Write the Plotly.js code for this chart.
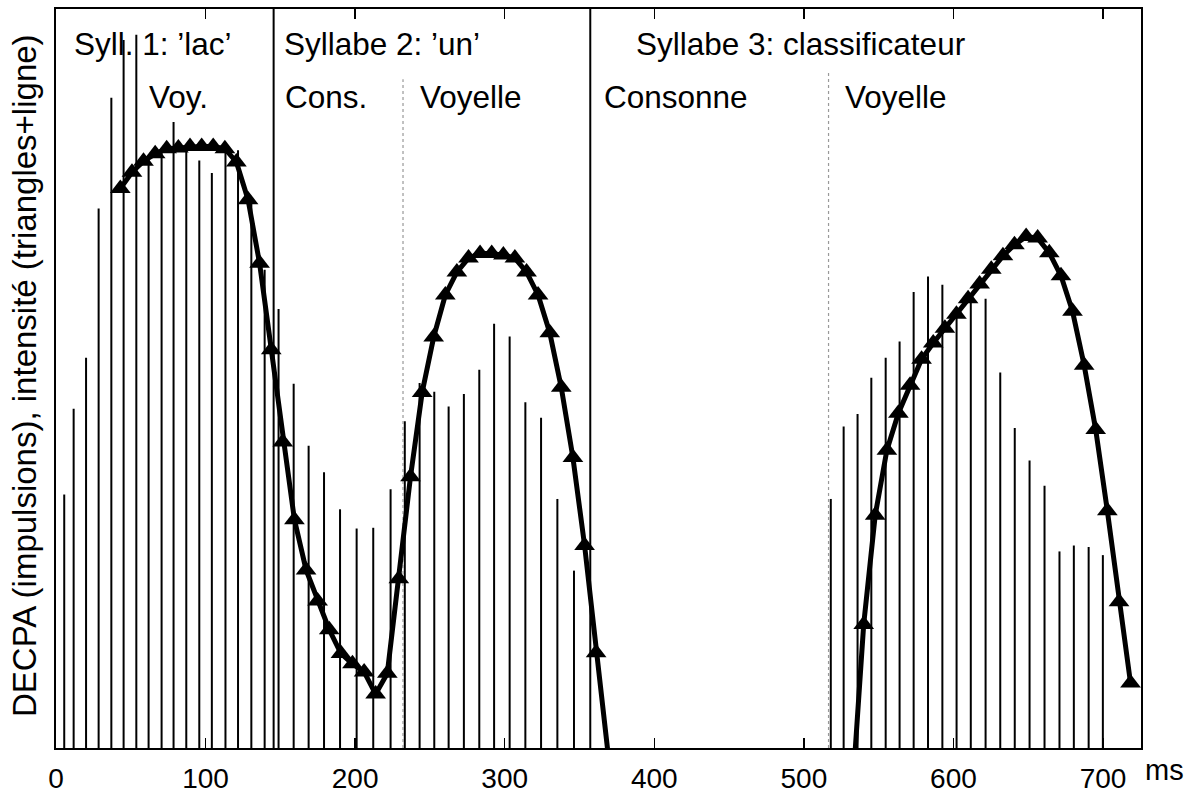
<!DOCTYPE html>
<html>
<head>
<meta charset="utf-8">
<script src="https://cdn.plot.ly/plotly-3.0.1.min.js"></script>
<style>html,body{margin:0;padding:0;background:#fff}#chart{width:1199px;height:796px}</style>
</head>
<body>
<div id="chart"></div>
<script>
// Glottal pulses (DECPA): time in ms and relative amplitude
const pulseMs = [5.5, 11.8, 20.1, 28.5, 37.0, 45.2, 53.7, 61.9, 70.6, 78.6, 87.1, 95.8, 104.2, 113.3, 121.7,
  130.6, 139.5, 148.8, 158.9, 168.9, 179.2, 189.9, 201.0, 212.1, 223.7, 233.2,
  243.1, 252.9, 262.5, 272.7, 283.0, 292.9, 303.3, 313.8, 324.3, 335.2, 346.3,
  518.0, 526.6, 535.9, 545.1, 554.7, 564.0, 573.4, 583.0, 592.6, 602.1, 611.6, 621.5,
  631.3, 641.0, 650.9, 660.9, 670.9, 680.5, 690.4, 699.9];
const pulseH = [34.3, 45.9, 52.8, 73.0, 88.0, 95.8, 96.5, 79.8, 80.5, 84.7, 80.9, 79.5, 77.8, 81.9, 80.9,
  73.6, 64.7, 59.4, 49.3, 40.9, 37.3, 32.3, 29.7, 29.8, 35.0, 44.2,
  49.4, 48.2, 46.2, 47.9, 51.2, 57.4, 55.7, 46.8, 44.7, 33.7, 24.0,
  33.7, 43.5, 45.2, 50.1, 52.8, 55.0, 61.7, 63.8, 62.7, 58.2, 60.4, 60.8,
  50.8, 43.3, 38.9, 35.5, 26.6, 27.4, 27.2, 26.1];

// Intensity curve, syllables 1-2
const intMs1 = [43.0, 50.8, 58.5, 66.3, 74.0, 81.8, 89.6, 97.4, 105.1, 112.9, 120.6, 128.4, 136.1, 143.9,
  151.6, 159.4, 167.2, 174.9, 182.7, 190.5, 198.2, 206.0, 213.7, 221.5, 229.2, 237.0, 244.8, 252.5,
  260.3, 268.0, 275.8, 283.5, 291.3, 299.1, 306.8, 314.6, 322.3, 330.1, 337.8, 345.6, 353.4, 361.1, 368.9];
const intVal1 = [75.7, 77.9, 79.4, 80.4, 81.1, 81.2, 81.4, 81.4, 81.4, 81.1, 79.3, 74.2, 65.6, 53.9,
  41.4, 30.9, 24.1, 19.9, 16.0, 12.8, 11.4, 10.3, 7.3, 10.1, 22.9, 36.7, 48.1, 55.6,
  61.3, 64.4, 66.3, 66.9, 66.9, 66.7, 66.3, 64.4, 61.3, 56.2, 48.8, 39.3, 27.4, 12.9, -0.4];
// Intensity curve, syllable 3
const intMs3 = [532.2, 540.0, 547.7, 555.5, 563.2, 571.0, 578.7, 586.5, 594.3, 602.0, 609.8, 617.5, 625.3,
  633.1, 640.8, 648.6, 656.3, 664.1, 671.9, 679.6, 687.4, 695.1, 702.9, 710.7, 718.4];
const intVal3 = [-6.6, 16.7, 31.5, 40.3, 45.3, 49.1, 52.6, 54.8, 56.8, 58.7, 60.8, 62.8, 64.8,
  66.6, 68.1, 69.2, 69.0, 67.0, 63.9, 59.1, 51.8, 43.1, 32.1, 19.8, 8.8];

// Segment boundaries (ms)
const syllableBounds = [145.5, 357.2];
const phoneBounds = [232.0, 516.5];
const phoneBoundTop = [90.5, 91.5];

// Labels
const rowSyll = ["Syll. 1: \u2019lac\u2019", "Syllabe 2: \u2019un\u2019", "Syllabe 3: classificateur"];
const rowSyllMs = [10.5, 151.1, 386.2];
const rowPhone = ["Voy.", "Cons.", "Voyelle", "Consonne", "Voyelle"];
const rowPhoneMs = [60.8, 151.5, 242.0, 364.8, 526.4];
const xTicks = [0, 100, 200, 300, 400, 500, 600, 700];

const FONT = "Liberation Sans, Arial, Helvetica, sans-serif";

// build impulse segments
const px = [], py = [];
pulseMs.forEach((t, i) => { px.push(t, t, null); py.push(0, pulseH[i], null); });
// boundary lines
const bx = [], by = [];
syllableBounds.forEach(t => { bx.push(t, t, null); by.push(0, 100, null); });
const dx = [], dy = [];
phoneBounds.forEach((t, i) => { dx.push(t, t, null); dy.push(0, phoneBoundTop[i], null); });

const lineX = intMs1.concat([null], intMs3);
const lineY = intVal1.concat([null], intVal3);
const markY = lineY.map(v => (v === null || v < 0) ? null : v);

const traces = [
  {x: px, y: py, mode: 'lines', line: {color: '#000', width: 2}, hoverinfo: 'skip', showlegend: false},
  {x: bx, y: by, mode: 'lines', line: {color: '#000', width: 2}, hoverinfo: 'skip', showlegend: false},
  {x: dx, y: dy, mode: 'lines', line: {color: '#999', width: 1.2, dash: 'dot'}, hoverinfo: 'skip', showlegend: false},
  {x: lineX, y: lineY, mode: 'lines', line: {color: '#000', width: 5}, connectgaps: false, showlegend: false},
  {x: lineX, y: markY, mode: 'markers', marker: {symbol: 'triangle-up', size: 18, color: '#000', line: {width: 0}}, showlegend: false}
];

const annotations = [];
rowSyll.forEach((s, i) => annotations.push({text: s, x: rowSyllMs[i], xref: 'x', y: 0.9524, yref: 'paper',
  xanchor: 'left', yanchor: 'middle', showarrow: false, font: {family: FONT, size: 31.5, color: '#000'}}));
rowPhone.forEach((s, i) => annotations.push({text: s, x: rowPhoneMs[i], xref: 'x', y: 0.8803, yref: 'paper',
  xanchor: 'left', yanchor: 'middle', showarrow: false, font: {family: FONT, size: 31.5, color: '#000'}}));
annotations.push({text: 'ms', x: 1.0015, xref: 'paper', y: -0.03, yref: 'paper',
  xanchor: 'left', yanchor: 'middle', showarrow: false, font: {family: FONT, size: 29, color: '#000'}});
annotations.push({text: 'DECPA (impulsions), intensité (triangles+ligne)', textangle: -90,
  x: -0.0295, xref: 'paper', y: 0.5047, yref: 'paper', xanchor: 'center', yanchor: 'middle', showarrow: false,
  font: {family: FONT, size: 33, color: '#000'}});

const layout = {
  width: 1199, height: 796,
  margin: {l: 56, r: 58, t: 9, b: 48, pad: 0},
  paper_bgcolor: '#fff', plot_bgcolor: '#fff',
  font: {family: FONT, color: '#000'},
  xaxis: {range: [0, 725.4], tickvals: xTicks, ticktext: xTicks.map(String), ticks: 'inside', ticklen: 10, tickwidth: 1.5,
    tickcolor: '#000', showline: true, linecolor: '#000', linewidth: 2, mirror: 'ticks', showgrid: false, zeroline: false,
    tickfont: {family: FONT, size: 28, color: '#000'}, ticklabelstandoff: 4},
  yaxis: {range: [0, 100], showticklabels: false, ticks: '', showline: true, linecolor: '#000', linewidth: 2, mirror: true,
    showgrid: false, zeroline: false},
  annotations: annotations,
  showlegend: false
};

Plotly.newPlot('chart', traces, layout, {staticPlot: true, displayModeBar: false});
</script>
</body>
</html>
